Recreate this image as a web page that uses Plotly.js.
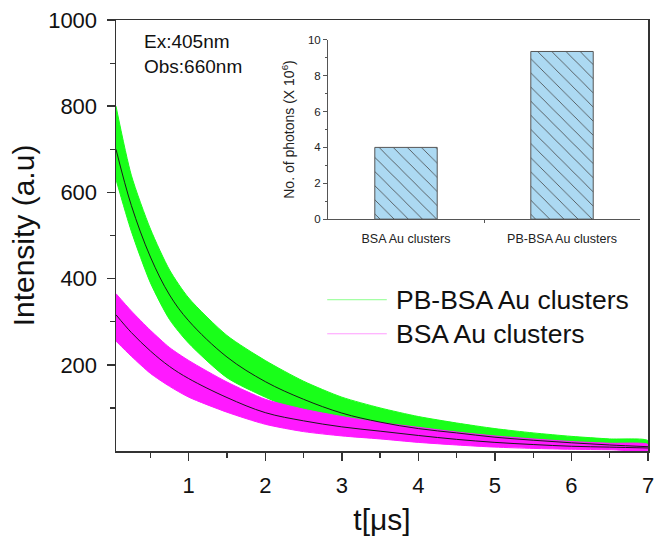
<!DOCTYPE html>
<html>
<head>
<meta charset="utf-8">
<script src="https://cdn.plot.ly/plotly-3.0.1.min.js"></script>
<style>html,body{margin:0;padding:0;background:#fff;}#chart{width:664px;height:548px;}</style>
</head>
<body>
<div id="chart"></div>
<script>
const t = [0.05, 0.25, 0.5, 0.75, 1.0, 1.5, 2.0, 2.5, 3.0, 3.5, 4.0, 4.5, 5.0, 5.5, 6.0, 6.5, 7.0];

// PB-BSA Au clusters (green): fitted decay and noise envelope
const pbFit   = [700, 570, 450, 362, 302, 218, 161, 120, 88, 67, 52, 42, 32, 25, 19, 14, 10];
const pbUpper = [800, 640, 515, 420, 355, 268, 210, 162, 125, 100, 80, 65, 52, 42, 34, 28, 24];
const pbLower = [630, 510, 390, 305, 250, 170, 125, 88, 60, 42, 32, 25, 18, 14, 10, 7, 5];

// BSA Au clusters (magenta): fitted decay and noise envelope
const bsaFit   = [316, 275, 232, 196, 168, 124, 89, 70, 56, 46, 36, 27, 20, 15, 11, 9, 7];
const bsaUpper = [365, 325, 280, 240, 210, 160, 120, 97, 80, 66, 55, 44, 35, 28, 22, 18, 15];
const bsaLower = [255, 220, 180, 150, 125, 90, 62, 45, 35, 28, 20, 14, 9, 6, 4, 3, 2];

// legend series names
const seriesNames = ["PB-BSA Au clusters", "BSA Au clusters"];

// inset bar chart
const insetCategories = ["BSA Au clusters", "PB-BSA Au clusters"];
const insetValues = [4.0, 9.35];

// tick values
const xTicks = [1, 2, 3, 4, 5, 6, 7];
const xMinor = [0.5, 1.5, 2.5, 3.5, 4.5, 5.5, 6.5];
const yTicks = [200, 400, 600, 800, 1000];
const yMinor = [100, 300, 500, 700, 900];
const insetYTicks = [0, 2, 4, 6, 8, 10];
const insetYMinor = [1, 3, 5, 7, 9];
const insetXPos = [0, 1];

const FONT = "Liberation Sans, Arial, sans-serif";
const GREEN = "#19ff19";
const MAGENTA = "#ff19ff";

// closed polygon of a noise band (upper edge forward, lower edge backward)
const band = (upper, lower, color) => ({
  x: t.concat(t.slice().reverse()),
  y: upper.concat(lower.slice().reverse()),
  mode: "lines", line: {color: color, width: 1, shape: "spline", smoothing: 0.7},
  fill: "toself", fillcolor: color, showlegend: false, hoverinfo: "skip"
});

const traces = [
  band(pbUpper, pbLower, GREEN),
  band(bsaUpper, bsaLower, MAGENTA),
  {x: t, y: pbFit, mode: "lines", line: {color: "#1a1a1a", width: 1, shape: "spline"}, showlegend: false},
  {x: t, y: bsaFit, mode: "lines", line: {color: "#1a1a1a", width: 1, shape: "spline"}, showlegend: false},
  {x: insetXPos, y: insetValues, type: "bar", xaxis: "x2", yaxis: "y2", width: 0.4, showlegend: false,
   marker: {color: "#acd9f2", line: {color: "#555", width: 1},
            pattern: {shape: "\\", fgcolor: "#444", bgcolor: "#acd9f2", size: 10, solidity: 0.08}}}
];

// hand-placed legend (thin line swatches + labels), paper coordinates
const legendRows = [
  {y: 0.351, color: "#8cff8c", name: seriesNames[0]},
  {y: 0.272, color: "#ff9cff", name: seriesNames[1]}
];
const shapes = legendRows.map(r => ({
  type: "line", xref: "paper", yref: "paper", x0: 0.397, x1: 0.509, y0: r.y, y1: r.y,
  line: {color: r.color, width: 1}
}));
const annotations = legendRows.map(r => ({
  xref: "paper", yref: "paper", x: 0.522, y: r.y, xanchor: "left", yanchor: "middle",
  showarrow: false, text: r.name, font: {size: 26.5, family: FONT, color: "#111"}
}));
annotations.push({xref: "paper", yref: "paper", x: 0.048, y: 0.98, xanchor: "left", yanchor: "top", align: "left",
  showarrow: false, text: "Ex:405nm<br>Obs:660nm", font: {size: 19, family: FONT, color: "#111"}});

const layout = {
  width: 664, height: 548,
  margin: {l: 116, r: 16, t: 20, b: 97},
  paper_bgcolor: "#fff", plot_bgcolor: "rgba(0,0,0,0)",
  font: {family: FONT, color: "#111"},
  showlegend: false,
  xaxis: {
    domain: [0, 1], range: [0.05, 7], showgrid: false, zeroline: false,
    showline: true, linecolor: "#333", linewidth: 1.5, mirror: true,
    tickmode: "array", tickvals: xTicks, ticks: "outside", ticklen: 8, tickwidth: 1.5, tickcolor: "#333",
    minor: {tickmode: "array", tickvals: xMinor, ticks: "outside", ticklen: 5, tickwidth: 1.2, tickcolor: "#333"},
    tickfont: {size: 22, family: FONT, color: "#111"}, ticklabelstandoff: 6,
    title: {text: "t[μs]", font: {size: 30, family: FONT, color: "#111"}, standoff: 12}
  },
  yaxis: {
    domain: [0, 1], range: [0, 1000], showgrid: false, zeroline: false,
    showline: true, linecolor: "#333", linewidth: 1.5, mirror: true,
    tickmode: "array", tickvals: yTicks, ticks: "outside", ticklen: 8, tickwidth: 1.5, tickcolor: "#333",
    minor: {tickmode: "array", tickvals: yMinor, ticks: "outside", ticklen: 5, tickwidth: 1.2, tickcolor: "#333"},
    tickfont: {size: 22, family: FONT, color: "#111"}, ticklabelstandoff: 5,
    title: {text: "Intensity (a.u)", font: {size: 30, family: FONT, color: "#111"}, standoff: 4}
  },
  xaxis2: {
    domain: [0.3985, 0.985], anchor: "y2", range: [-0.5, 1.5], showgrid: false, zeroline: false,
    showline: true, linecolor: "#555", linewidth: 1,
    tickmode: "array", tickvals: insetXPos, ticktext: insetCategories, ticks: "", ticklabelstandoff: 8,
    minor: {tickmode: "array", tickvals: [0.5], ticks: "outside", ticklen: 3, tickwidth: 1, tickcolor: "#555"},
    tickfont: {size: 12.5, family: FONT, color: "#222"}
  },
  yaxis2: {
    domain: [0.538, 0.954], anchor: "x2", range: [0, 10], showgrid: false, zeroline: false,
    showline: true, linecolor: "#555", linewidth: 1,
    tickmode: "array", tickvals: insetYTicks, ticks: "outside", ticklen: 4, tickwidth: 1, tickcolor: "#555",
    minor: {tickmode: "array", tickvals: insetYMinor, ticks: "outside", ticklen: 2, tickwidth: 1, tickcolor: "#555"},
    tickfont: {size: 11.5, family: FONT, color: "#222"}, ticklabelstandoff: 0,
    title: {text: "No. of photons (X 10<sup>6</sup>)", font: {size: 14, family: FONT, color: "#222"}, standoff: 10}
  },
  shapes: shapes,
  annotations: annotations
};

Plotly.newPlot("chart", traces, layout, {displayModeBar: false, staticPlot: true});
</script>
</body>
</html>
